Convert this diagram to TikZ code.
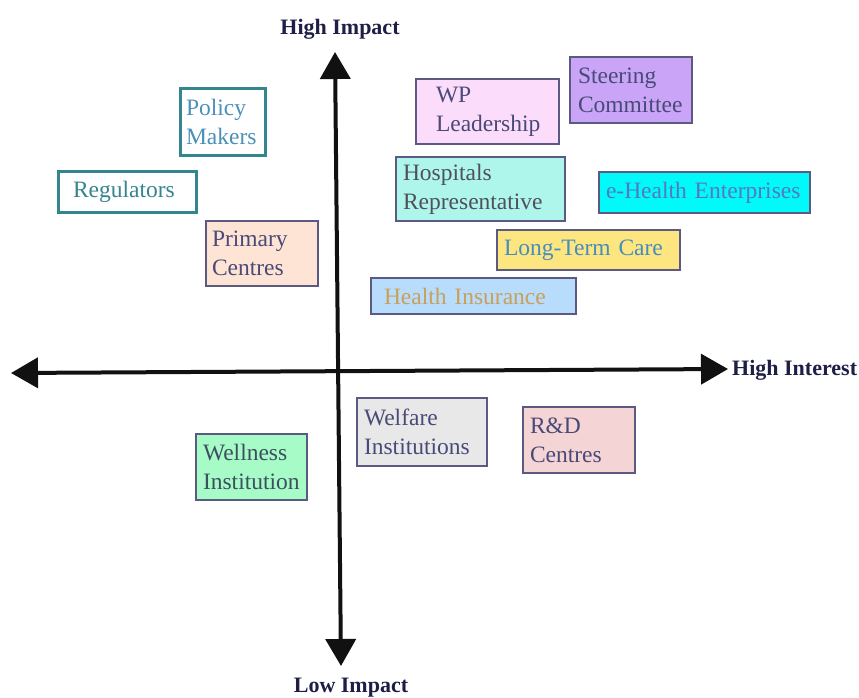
\documentclass[tikz,border=0pt]{standalone}
\usepackage{fontspec}
\setmainfont{Liberation Serif}
\usetikzlibrary{arrows.meta}

\definecolor{axisink}{HTML}{111111}
\definecolor{labelink}{HTML}{1E1E46}
\definecolor{frame}{HTML}{5A5A82}
\definecolor{tealframe}{HTML}{35858E}
\definecolor{darkink}{HTML}{4A4A78}
\definecolor{policyink}{HTML}{4A90B8}

\tikzset{
  stake/.style={draw=frame, line width=1.4pt, inner ysep=0pt, align=left,
    font=\fontsize{23.5}{29}\selectfont, text=darkink},
  tealbox/.style={stake, draw=tealframe, line width=3pt, fill=white},
  axis/.style={line width=4pt, draw=axisink,
    {Triangle[length=27pt,width=30pt]}-{Triangle[length=27pt,width=30pt]}},
  axislabel/.style={font=\bfseries\fontsize{22}{26}\selectfont, text=labelink}
}

\begin{document}
\begin{tikzpicture}[x=1pt,y=-1pt]
  \useasboundingbox (0,0) rectangle (859,698);

  % axes
  \coordinate (top) at (335,52);
  \coordinate (bottom) at (341,666);
  \coordinate (left) at (11,373);
  \coordinate (right) at (728,369);
  \draw[axis] (bottom) -- (top);
  \draw[axis] (left) -- (right);

  \node[axislabel] (hi) at (340,29) {High Impact};
  \node[axislabel] (lo) at (351,688) {Low Impact};
  \node[axislabel, anchor=west, inner xsep=0pt] (int) at (732,370) {High Interest};

  % stakeholders
  \node[tealbox, text=policyink, inner xsep=6pt, text width=73pt, minimum height=66pt]
    (policy) at (222.5,122) {Policy\\Makers};
  \node[tealbox, text=tealframe, inner xsep=15pt, text width=108pt, minimum height=41pt]
    (reg) at (127,191.5) {Regulators};
  \node[stake, fill={rgb,255:red,253;green,228;blue,212}, inner xsep=6pt, text width=100pt, minimum height=65pt]
    (primary) at (262,253.5) {Primary\\Centres};
  \node[stake, fill={rgb,255:red,251;green,220;blue,251}, inner xsep=20pt, text width=103pt, minimum height=65pt]
    (wp) at (487.5,111.5) {WP\\Leadership};
  \node[stake, fill={rgb,255:red,201;green,164;blue,247}, inner xsep=8pt, text width=106pt, minimum height=66pt]
    (steer) at (631,90) {Steering\\Committee};
  \node[stake, fill={rgb,255:red,174;green,245;blue,236}, text={rgb,255:red,80;green,80;blue,90}, inner xsep=7pt, text width=155pt, minimum height=64pt]
    (hosp) at (480.5,189) {Hospitals\\Representative};
  \node[stake, fill={rgb,255:red,0;green,250;blue,250}, text={rgb,255:red,84;green,120;blue,196}, inner xsep=7pt, text width=197pt, minimum height=41pt]
    (ehealth) at (704.5,192.5) {\mbox{e-Health Enterprises}};
  \node[stake, fill={rgb,255:red,253;green,229;blue,128}, text={rgb,255:red,70;green,140;blue,190}, inner xsep=7pt, text width=169pt, minimum height=40pt]
    (ltc) at (588.5,250) {Long-Term Care};
  \node[stake, fill={rgb,255:red,184;green,220;blue,252}, text={rgb,255:red,200;green,160;blue,90}, inner xsep=13pt, text width=179pt, minimum height=36pt]
    (ins) at (473.5,296) {Health Insurance};
  \node[stake, fill={rgb,255:red,166;green,251;blue,198}, text={rgb,255:red,60;green,80;blue,96}, inner xsep=7pt, text width=97pt, minimum height=66pt]
    (wellness) at (251.5,467) {Wellness\\Institution};
  \node[stake, fill={rgb,255:red,232;green,232;blue,232}, inner xsep=7pt, text width=116pt, minimum height=68pt]
    (welfare) at (422,432) {Welfare\\Institutions};
  \node[stake, fill={rgb,255:red,244;green,212;blue,212}, inner xsep=7pt, text width=98pt, minimum height=66pt]
    (rd) at (579,440) {R\&D\\Centres};
\end{tikzpicture}
\end{document}
